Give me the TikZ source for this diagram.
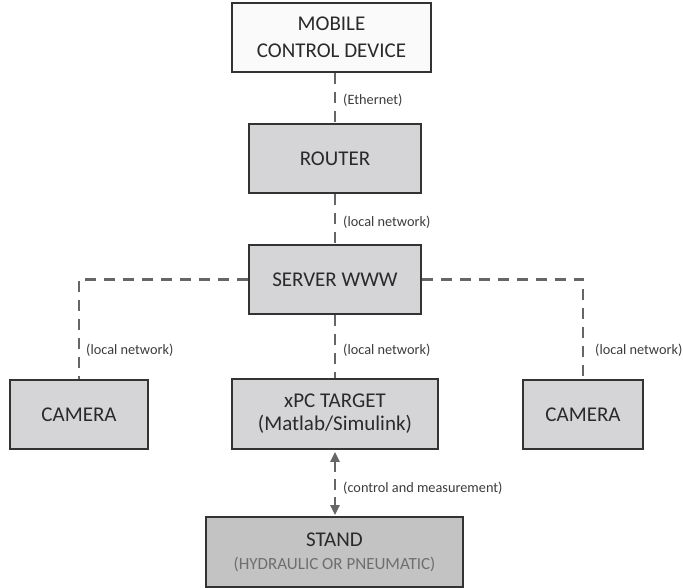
\documentclass[tikz,border=0pt]{standalone}
\usepackage{fontspec}
\setmainfont{Carlito}
\usetikzlibrary{arrows.meta}
\definecolor{boxline}{HTML}{333333}
\definecolor{boxtext}{HTML}{2A2A2A}
\definecolor{boxfill}{HTML}{D5D5D7}
\definecolor{standfill}{HTML}{C3C3C4}
\definecolor{topfill}{HTML}{FAFAFA}
\definecolor{linkgray}{HTML}{666666}
\definecolor{labgray}{HTML}{3C3C3C}
\definecolor{subgray}{HTML}{6E6E6E}
\tikzset{
  blk/.style={draw=boxline, line width=1.7pt, fill=boxfill, inner sep=0pt,
    minimum height=69pt, align=center, text=boxtext,
    font=\fontsize{21}{26}\selectfont},
  link/.style={draw=linkgray, line width=2.3pt, dash pattern=on 11pt off 8pt},
  lab/.style={anchor=west, inner sep=0pt, text=labgray,
    font=\fontsize{14.3}{16}\selectfont},
  bothtips/.style={{Triangle[width=9pt,length=10pt]}-{Triangle[width=9pt,length=10pt]}}
}
\begin{document}
\begin{tikzpicture}[x=1pt,y=-1pt]
\useasboundingbox (0,0) rectangle (683,588);
\node[blk, fill=topfill, minimum width=199pt] (mobile) at (331.5,37.5) {MOBILE\\[1pt]CONTROL DEVICE};
\node[blk, minimum width=172pt] (router) at (335,158.5) {ROUTER};
\node[blk, minimum width=172pt] (server) at (335,279.5) {SERVER WWW};
\node[blk, minimum width=138pt] (camL) at (79,414.5) {CAMERA};
\node[blk, minimum width=206pt, minimum height=70pt,
  font=\fontsize{21}{23}\selectfont] (xpc) at (335,414) {xPC TARGET\\(Matlab/Simulink)};
\node[blk, minimum width=120pt] (camR) at (583,414.5) {CAMERA};
\node[blk, fill=standfill, minimum width=257pt, minimum height=70pt,
  font=\fontsize{21}{23}\selectfont] (stand) at (334.5,552)
  {STAND\\{\color{subgray}\fontsize{17}{20}\selectfont (HYDRAULIC OR PNEUMATIC)}};

\coordinate (cL) at (camL.north |- server.west);
\coordinate (cR) at (camR.north |- server.east);

\draw[link] (router.north |- mobile.south) -- (router.north);
\draw[link] (router.south) -- (server.north);
\draw[link] (server.south) -- (xpc.north);
\draw[link] (server.west) -- (cL) -- (camL.north);
\draw[link] (server.east) -- (cR) -- (camR.north);
\draw[link, bothtips, dash pattern=on 11pt off 7pt] ([yshift=-2pt]xpc.south) -- ([yshift=1pt]xpc.south |- stand.north);

\node[lab] (l1) at (343,100) {(Ethernet)};
\node[lab] (l2) at (343,222) {(local network)};
\node[lab] (l3) at (343,350) {(local network)};
\node[lab] (l4) at (86,350) {(local network)};
\node[lab] (l5) at (595,350) {(local network)};
\node[lab] (l6) at (343,488) {(control and measurement)};
\end{tikzpicture}
\end{document}
